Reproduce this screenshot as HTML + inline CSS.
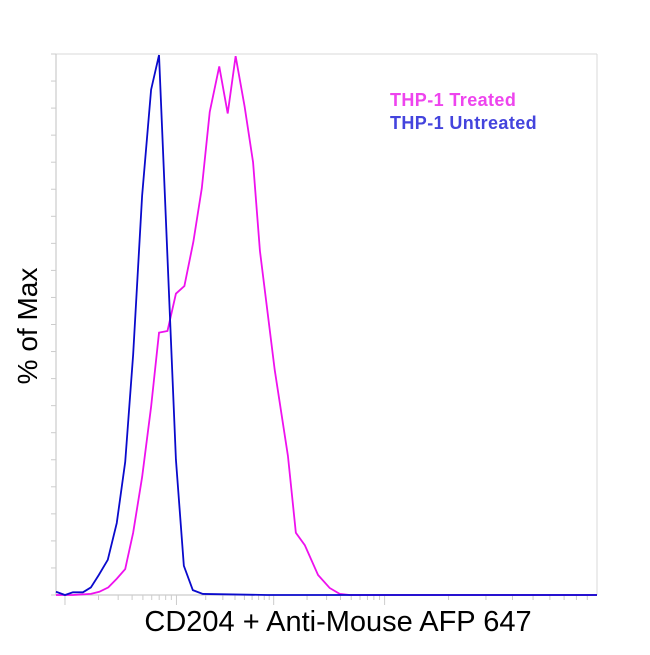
<!DOCTYPE html>
<html><head><meta charset="utf-8"><style>
body{margin:0;background:#fff;width:650px;height:650px;overflow:hidden}
svg{font-family:"Liberation Sans",sans-serif}
</style></head><body>
<svg id="chart" width="650" height="650">
<g id="grid"></g>
<text x="390" y="106" fill="#ee44ee" font-size="18" font-weight="bold" letter-spacing="0.4">THP-1 Treated</text>
<text x="390" y="129" fill="#4444dd" font-size="18" font-weight="bold" letter-spacing="0.4">THP-1 Untreated</text>
<text transform="translate(37,326) rotate(-90)" text-anchor="middle" font-size="28">% of Max</text>
<text x="338" y="631" text-anchor="middle" font-size="29">CD204 + Anti-Mouse AFP 647</text>
</svg>
<script>
const blueX=[0,17,32,51,66,81,98,115,131,146,163,180,195,227,242,259,278,400,700,1024];
const blueY=[0.6,0,0.5,0.5,1.4,3.7,6.5,13.3,24.6,44.4,73.8,93.4,99.8,25,5.4,0.9,0.2,0,0,0];
const magX=[0,32,66,82,99,115,131,146,163,180,195,211,227,243,260,276,291,309,325,340,357,373,386,414,439,454,471,496,518,537,556,700,1024];
const magY=[0,0,0.2,0.6,1.4,3,4.8,11.5,21.8,34.8,48.5,48.8,55.7,57.1,65.3,75.2,89.3,97.7,89,99.6,90.3,80,63.6,41.6,25.7,11.5,9.2,3.7,1.3,0.2,0,0,0];
const decades=[17,228,412,622,1024];
const L=56,R=597,T=54,B=595;
const xs=v=>L+v/1024*(R-L);
const ys=v=>B-v/100*(B-T);
const ns="http://www.w3.org/2000/svg";
const svg=document.getElementById('chart');
const g=document.getElementById('grid');
function ln(x1,y1,x2,y2,c,w,name){const e=document.createElementNS(ns,'line');
e.setAttribute('x1',x1);e.setAttribute('y1',y1);e.setAttribute('x2',x2);e.setAttribute('y2',y2);
e.setAttribute('stroke',c);e.setAttribute('stroke-width',w);


g.appendChild(e);}
ln(L,T,R,T,'#d8d8d8',1,'plot-top-border');
ln(R,T,R,B,'#d8d8d8',1,'plot-right-border');
ln(L,T,L,B,'#cccccc',1.2,'y-axis-line');
ln(L,B,R,B,'#cccccc',1.2,'x-axis-line');
for(let i=0;i<=20;i++){const y=ys(i*5);ln(L-5,y,L,y,'#cccccc',1,'y-tick');}
for(let d=0;d<decades.length-1;d++){const a=decades[d],b=decades[d+1];
 ln(xs(a),B,xs(a),B+10,'#cccccc',1,'x-major-tick');
 for(let k=2;k<10;k++){const v=a+(b-a)*Math.log10(k);ln(xs(v),B,xs(v),B+5,'#cccccc',1,'x-minor-tick');}}
function series(X,Y,c,name){const p=document.createElementNS(ns,'polyline');
p.setAttribute('points',X.map((x,i)=>xs(x)+','+ys(Y[i])).join(' '));
p.setAttribute('fill','none');p.setAttribute('stroke',c);p.setAttribute('stroke-width',1.8);


svg.appendChild(p);}
series(magX,magY,'#ee11ee','treated-line');
series(blueX,blueY,'#0a0acc','untreated-line');
</script>
</body></html>
